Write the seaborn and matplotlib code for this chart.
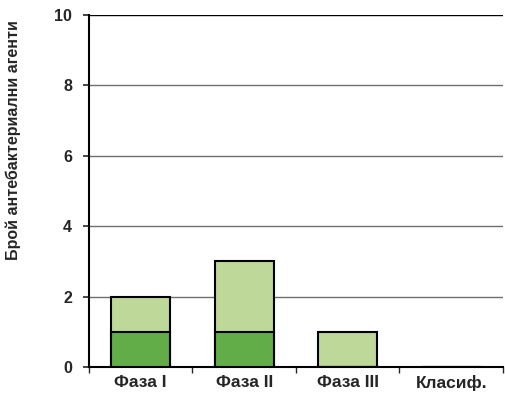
import matplotlib
matplotlib.use("Agg")
import matplotlib.pyplot as plt
import seaborn as sns
import pandas as pd
from matplotlib.ticker import MultipleLocator, FixedLocator

categories = ["Фаза I", "Фаза II", "Фаза III", "Класиф."]
dark_values = [1, 1, 0, 0]
light_values = [1, 2, 1, 0]
totals = [d + l for d, l in zip(dark_values, light_values)]

sns.set_style("white")
plt.rcParams['font.family'] = ['Liberation Sans', 'DejaVu Sans']

df = pd.DataFrame({"cat": categories, "dark": dark_values, "total": totals})

fig = plt.figure(figsize=(5.05, 4.07), dpi=100)
ax = fig.add_axes([0.176, 0.098, 0.820, 0.865])

for y in [2, 4, 6, 8]:
    ax.axhline(y, color="#6e6e6e", lw=1, zorder=0)
ax.axhline(10, color="black", lw=1, zorder=0)

sns.barplot(data=df, x="cat", y="total", color="#BDD898", edgecolor="black",
            linewidth=1.5, width=0.57, ax=ax, zorder=2, saturation=1)
sns.barplot(data=df, x="cat", y="dark", color="#62AD47", edgecolor="black",
            linewidth=1.5, width=0.57, ax=ax, zorder=3, saturation=1)

ax.set_ylim(0, 10)
ax.set_xlim(-0.5, 3.5)
ax.yaxis.set_major_locator(MultipleLocator(2))
ax.set_ylabel("Брой антебактериални агенти", fontsize=11.5, fontweight="bold")
ax.yaxis.set_label_coords(-0.165, 0.645)
ax.set_xlabel("")

for s in ["top", "right"]:
    ax.spines[s].set_visible(False)
ax.spines["left"].set_linewidth(1.5)
ax.spines["bottom"].set_linewidth(1.5)
ax.spines["left"].set_color("black")
ax.spines["bottom"].set_color("black")

ax.tick_params(axis="y", which="major", direction="out", length=4, width=1.2,
               labelsize=11.5, pad=8, left=True)
ax.tick_params(axis="x", which="major", length=0, labelsize=12.5, pad=6)
ax.xaxis.set_minor_locator(FixedLocator([-0.5, 0.5, 1.5, 2.5, 3.5]))
ax.tick_params(axis="x", which="minor", direction="out", length=4, width=1, bottom=True)
for lab in ax.get_xticklabels() + ax.get_yticklabels():
    lab.set_fontweight("bold")

fig.savefig("out.png", dpi=100)
